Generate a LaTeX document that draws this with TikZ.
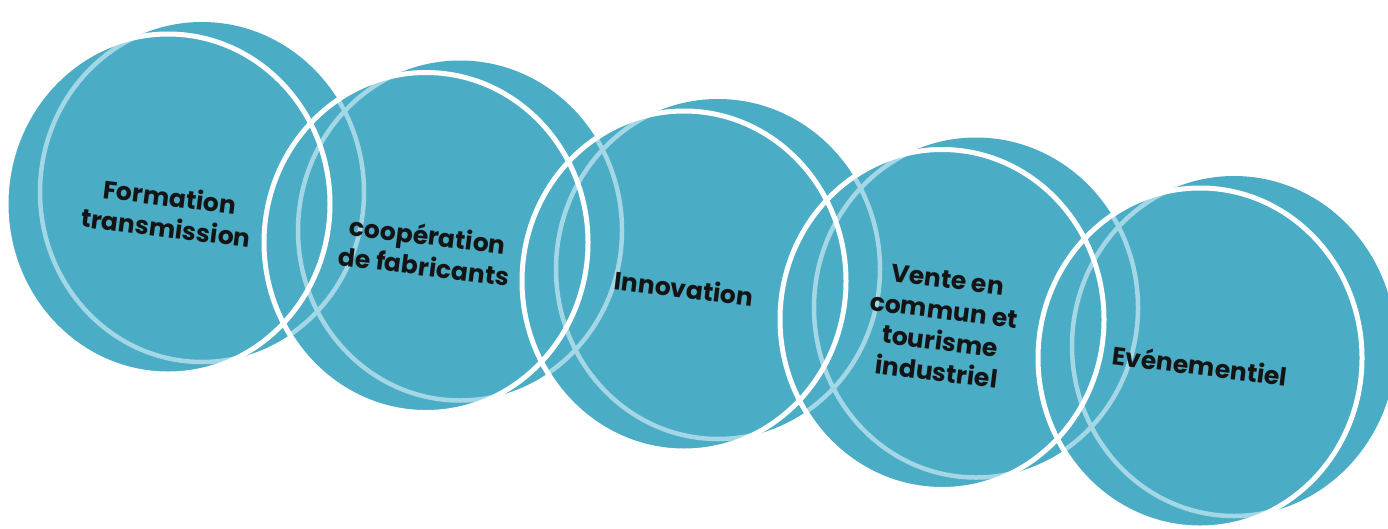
\documentclass[tikz,border=0pt]{standalone}
\usepackage{fontspec}
\newfontfamily\popfont{Poppins}
\definecolor{discteal}{HTML}{4BACC6}
\definecolor{ringlight}{HTML}{A3D7E6}
% body of disc #1: hull of the front ring ellipse and its shifted back copy
\def\discbodypath#1{%
  (w#1) ellipse [x radius=162pt, y radius=170pt]
  ([shift={(8.5,-3)}]w#1) ellipse [x radius=162pt, y radius=170pt]
  ([shift={(17,-6)}]w#1) ellipse [x radius=162pt, y radius=170pt]
  ([shift={(25.5,-9)}]w#1) ellipse [x radius=162pt, y radius=170pt]
  (l#1) ellipse [x radius=162pt, y radius=170pt]}
\def\frontpath#1{(w#1) ellipse [x radius=164pt, y radius=172pt]}
\begin{document}
\begin{tikzpicture}[x=1pt,y=-1pt,
  discbody/.style={fill=discteal},
  whitering/.style={draw=white,line width=5pt},
  lightring/.style={draw=ringlight,line width=4.5pt},
  disctext/.style={font=\popfont\bfseries\fontsize{25}{31}\selectfont, align=center, rotate=-7, text=black!92, inner sep=0pt}]
\useasboundingbox (0,0) rectangle (1388,528);
\fill[white] (0,0) rectangle (1388,528);
\foreach \i in {0,...,4}{
  \coordinate (w\i) at ({168+258*\i},{204+38.5*\i});
  \coordinate (l\i) at ({202+258*\i},{192+38.5*\i});
}
% teal bodies
\fill[discbody] \discbodypath{0} \discbodypath{1} \discbodypath{2} \discbodypath{3} \discbodypath{4};
% light (back) rings: visible inside the own front ellipse and over the other bodies
\begin{scope}
  \clip \frontpath{0} \discbodypath{1};
  \draw[lightring] (l0) ellipse [x radius=162pt, y radius=170pt];
\end{scope}
\begin{scope}
  \clip \frontpath{1} \discbodypath{0} \discbodypath{2};
  \draw[lightring] (l1) ellipse [x radius=162pt, y radius=170pt];
\end{scope}
\begin{scope}
  \clip \frontpath{2} \discbodypath{1} \discbodypath{3};
  \draw[lightring] (l2) ellipse [x radius=162pt, y radius=170pt];
\end{scope}
\begin{scope}
  \clip \frontpath{3} \discbodypath{2} \discbodypath{4};
  \draw[lightring] (l3) ellipse [x radius=162pt, y radius=170pt];
\end{scope}
\begin{scope}
  \clip \frontpath{4} \discbodypath{3};
  \draw[lightring] (l4) ellipse [x radius=162pt, y radius=170pt];
\end{scope}
% white (front) rings
\foreach \i in {0,...,4}{
  \draw[whitering] (w\i) ellipse [x radius=162pt, y radius=170pt];
}
% texts
\node[disctext] (t1) at (168,212) {Formation\\transmission};
\node[disctext] (t2) at (426,250) {coopération\\de fabricants};
\node[disctext] (t3) at (684,288) {Innovation};
\node[disctext] (t4) at (942,326) {Vente en\\commun et\\tourisme\\industriel};
\node[disctext] (t5) at (1200,365) {Evénementiel};
\end{tikzpicture}
\end{document}
